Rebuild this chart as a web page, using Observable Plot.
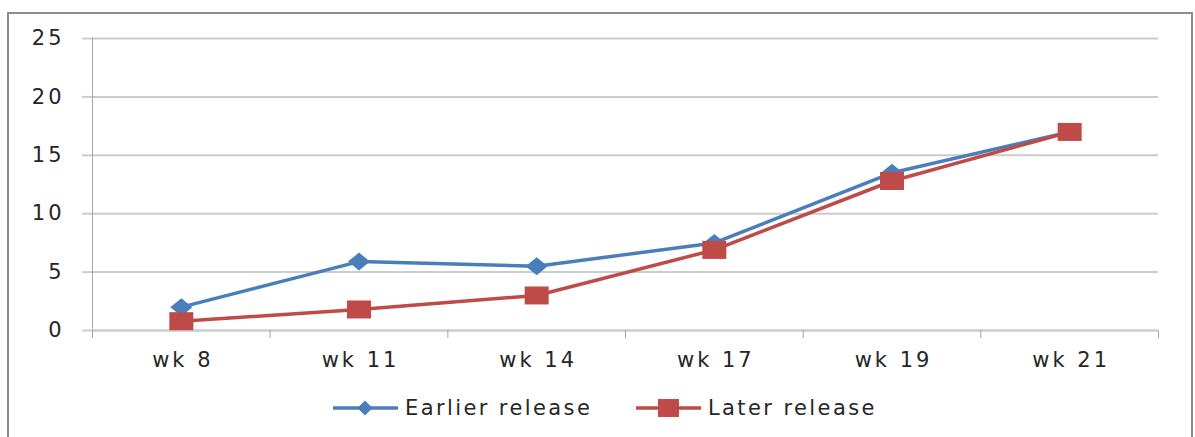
<!DOCTYPE html>
<html>
<head>
<meta charset="utf-8">
<script src="https://cdn.jsdelivr.net/npm/d3@7"></script>
<script src="https://cdn.jsdelivr.net/npm/@observablehq/plot@0.6"></script>
<style>
  html, body { margin: 0; padding: 0; background: #fff; }
  #wrap { position: relative; width: 1195px; height: 437px; overflow: hidden; font-family: "DejaVu Sans", sans-serif; }
  #frame { position: absolute; left: 7px; top: 12px; width: 1186px; height: 440px; box-sizing: border-box; border: 2px solid #8c8c8c; }
  #chart { position: absolute; left: 0; top: 0; }
  #legend { position: absolute; top: 396px; left: 0; width: 1195px; height: 24px; font-size: 21px; letter-spacing: 2.4px; color: #262626; }
  .item { position: absolute; top: 0; display: flex; align-items: center; height: 24px; }
  .item svg { margin-right: 7px; }
</style>
</head>
<body>
<div id="wrap">
  <div id="frame"></div>
  <div id="chart"></div>
  <div id="legend"></div>
</div>
<script>
const categories = ["wk 8", "wk 11", "wk 14", "wk 17", "wk 19", "wk 21"];
const seriesNames = ["Earlier release", "Later release"];
const earlier = [2.0, 5.9, 5.5, 7.5, 13.5, 17.0];
const later = [0.8, 1.8, 3.0, 6.9, 12.8, 17.0];
const yTicks = [0, 5, 10, 15, 20, 25];
const colors = ["#4a7ebb", "#be4b48"];

const toRows = (vals, s) => vals.map((v, i) => ({ series: s, xi: i + 0.5, value: v }));
const rowsE = toRows(earlier, seriesNames[0]);
const rowsL = toRows(later, seriesNames[1]);
const boundaries = d3.range(categories.length + 1);
const centers = categories.map((c, i) => i + 0.5);

const diamond = { draw(ctx) { ctx.moveTo(0, -9); ctx.lineTo(11, 0); ctx.lineTo(0, 9); ctx.lineTo(-11, 0); ctx.closePath(); } };
const square = { draw(ctx) { ctx.moveTo(-12, -9); ctx.lineTo(12, -9); ctx.lineTo(12, 9); ctx.lineTo(-12, 9); ctx.closePath(); } };

const axisColor = "#a6a6a6";
const gridColor = "#cccccc";

const chart = Plot.plot({
  width: 1195,
  height: 380,
  marginLeft: 92,
  marginRight: 37,
  marginTop: 38,
  marginBottom: 50,
  style: { fontFamily: "DejaVu Sans, sans-serif", fontSize: "21px", letterSpacing: "3px", color: "#262626", background: "transparent", overflow: "visible" },
  x: { type: "linear", domain: [0, categories.length], axis: null, label: null },
  y: { domain: [0, 25], axis: null, label: null },
  marks: [
    Plot.gridY(yTicks, { stroke: gridColor, strokeOpacity: 1, strokeWidth: 2 }),
    Plot.axisY(yTicks, { label: null, tickSize: 10, tickPadding: 18, stroke: gridColor, strokeOpacity: 1, strokeWidth: 2, fill: "#262626", tickFormat: d => String(d) }),
    Plot.ruleX([0], { stroke: axisColor, strokeWidth: 1 }),
    Plot.ruleY([0], { stroke: gridColor, strokeWidth: 2 }),
    Plot.axisX(boundaries, { label: null, tickSize: 8, stroke: axisColor, strokeOpacity: 1, tickFormat: () => "" }),
    Plot.axisX(centers, { label: null, tickSize: 0, tickPadding: 22, fill: "#262626", dx: 1.5, tickFormat: d => categories[Math.floor(d)] }),
    Plot.line(rowsE, { x: "xi", y: "value", stroke: colors[0], strokeWidth: 3.5 }),
    Plot.dot(rowsE, { x: "xi", y: "value", symbol: diamond, fill: colors[0], stroke: "none", r: 5 }),
    Plot.line(rowsL, { x: "xi", y: "value", stroke: colors[1], strokeWidth: 3.5 }),
    Plot.dot(rowsL, { x: "xi", y: "value", symbol: square, fill: colors[1], stroke: "none", r: 5 })
  ]
});
document.getElementById("chart").appendChild(chart);

// Legend
const legend = document.getElementById("legend");
const legendItems = [
  { name: seriesNames[0], color: colors[0], left: 333, shape: "diamond" },
  { name: seriesNames[1], color: colors[1], left: 636, shape: "square" }
];
legendItems.forEach(it => {
  const div = document.createElement("div");
  div.className = "item";
  div.style.left = it.left + "px";
  const sw = d3.create("svg").attr("width", 65).attr("height", 24);
  sw.append("line").attr("x1", 0).attr("x2", 65).attr("y1", 12).attr("y2", 12).attr("stroke", it.color).attr("stroke-width", 3.5);
  if (it.shape === "diamond") {
    sw.append("path").attr("d", "M32,4.5L39.5,12L32,19.5L24.5,12Z").attr("fill", it.color);
  } else {
    sw.append("rect").attr("x", 22).attr("y", 3).attr("width", 21).attr("height", 18).attr("fill", it.color);
  }
  div.appendChild(sw.node());
  const span = document.createElement("span");
  span.textContent = it.name;
  div.appendChild(span);
  legend.appendChild(div);
});
</script>
</body>
</html>
